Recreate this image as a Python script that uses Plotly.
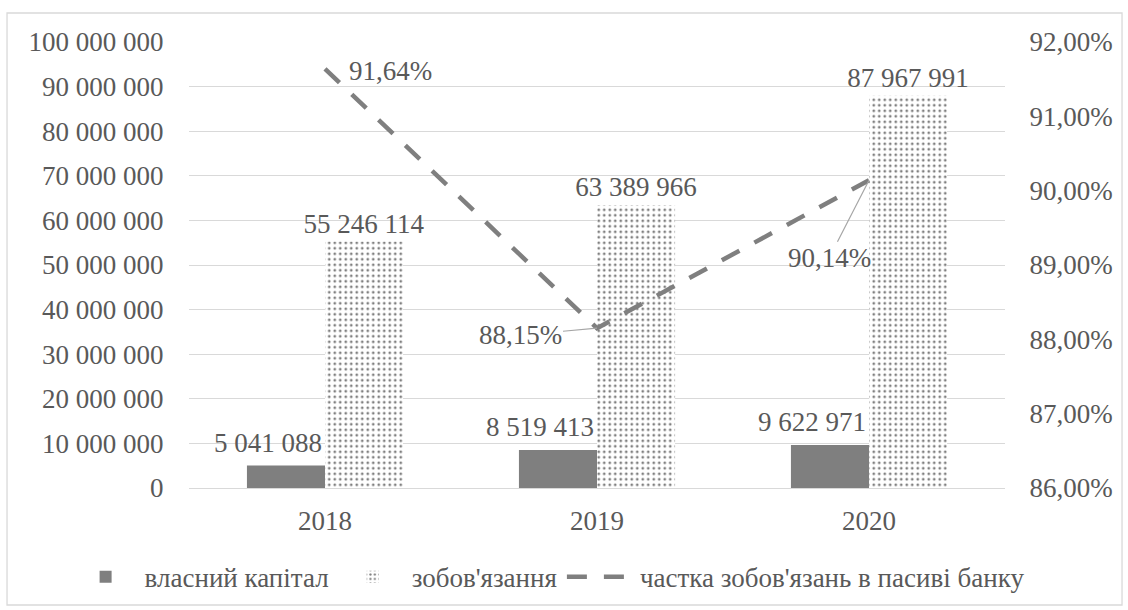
import plotly.graph_objects as go

years = ["2018", "2019", "2020"]
equity = [5041088, 8519413, 9622971]
liabilities = [55246114, 63389966, 87967991]
share = [0.9164, 0.8815, 0.9014]

name_equity = "власний капітал"
name_liab = "зобов'язання"
name_share = "частка зобов'язань в пасиві банку"

left_ticks = [0, 10000000, 20000000, 30000000, 40000000, 50000000, 60000000,
              70000000, 80000000, 90000000, 100000000]
right_ticks = [0.86, 0.87, 0.88, 0.89, 0.90, 0.91, 0.92]


def fmt_int(v):
    return f"{v:,d}".replace(",", " ")


def fmt_pct(v):
    return f"{v*100:.2f}%".replace(".", ",")


FONT = "Liberation Serif"
TXT = "#595959"
FS = 27

fig = go.Figure()
fig.add_trace(go.Bar(
    x=years, y=equity, name=name_equity,
    marker=dict(color="#7f7f7f", line=dict(width=0)),
))
fig.add_trace(go.Bar(
    x=years, y=liabilities, name=name_liab,
    marker=dict(color="white", line=dict(width=0),
                pattern=dict(shape=".", fgcolor="black", bgcolor="white",
                             size=5.5, solidity=0.2)),
    text=[fmt_int(v) for v in liabilities], textposition="outside",
    textfont=dict(family=FONT, size=FS, color=TXT),
    constraintext="none", cliponaxis=False,
))
fig.add_trace(go.Scatter(
    x=years, y=share, name=name_share, yaxis="y2", mode="lines",
    line=dict(color="#7f7f7f", width=4.5, dash="20px,17px"),
))

# equity labels (placed left of the bar centre, as in the source)
for i, v in enumerate(equity):
    fig.add_annotation(
        x=i, y=v, xref="x", yref="y", text=fmt_int(v), showarrow=False,
        xshift=-57, yshift=23, font=dict(family=FONT, size=FS, color=TXT),
    )

# share labels (placement offsets are styling only)
offsets = [dict(showarrow=False, xshift=65, yshift=-2),
           dict(showarrow=True, ax=-77, ay=7),
           dict(showarrow=True, ax=-40, ay=78)]
for i, (v, off) in enumerate(zip(share, offsets)):
    fig.add_annotation(
        x=i, y=v, xref="x", yref="y2",
        text=fmt_pct(v),
        font=dict(family=FONT, size=FS, color=TXT),
        arrowhead=0, arrowwidth=1.2, arrowcolor="#a6a6a6", standoff=0,
        **off,
    )

fig.add_shape(type="rect", xref="paper", yref="paper",
              x0=-0.2230, x1=1.1434, y0=-0.2623, y1=1.065,
              line=dict(color="#d9d9d9", width=1.3), layer="below")

fig.update_layout(
    width=1128, height=610,
    margin=dict(l=189, r=123, t=42, b=122, autoexpand=False),
    paper_bgcolor="white", plot_bgcolor="white",
    barmode="group", bargap=0.426, bargroupgap=0,
    font=dict(family=FONT, size=FS, color=TXT),
    showlegend=True,
    legend=dict(orientation="h", xref="paper", x=-0.15, xanchor="left",
                yref="paper", y=-0.2, yanchor="middle",
                font=dict(family=FONT, size=FS, color=TXT), itemwidth=68,
                traceorder="normal", bgcolor="rgba(0,0,0,0)"),
    xaxis=dict(type="category", categoryorder="array", categoryarray=years,
               range=[-0.5, 2.5], autorange=False,
               showgrid=False, showline=False, ticks="outside", ticklen=9,
               tickcolor="rgba(0,0,0,0)",
               tickfont=dict(family=FONT, size=FS, color=TXT)),
    yaxis=dict(range=[0, 100000000], tickvals=left_ticks,
               ticktext=[fmt_int(v) for v in left_ticks],
               showgrid=True, gridcolor="#d9d9d9", gridwidth=1.3,
               zeroline=True, zerolinecolor="#d9d9d9", zerolinewidth=1.3,
               showline=False, ticks="outside", ticklen=19, tickcolor="rgba(0,0,0,0)",
               tickfont=dict(family=FONT, size=FS, color=TXT)),
    yaxis2=dict(range=[0.86, 0.92], tickvals=right_ticks,
                ticktext=[fmt_pct(v) for v in right_ticks],
                overlaying="y", side="right", showgrid=False, zeroline=False,
                showline=False, ticks="outside", ticklen=18, tickcolor="rgba(0,0,0,0)",
                tickfont=dict(family=FONT, size=FS, color=TXT)),
)

fig.write_html("out.html")
